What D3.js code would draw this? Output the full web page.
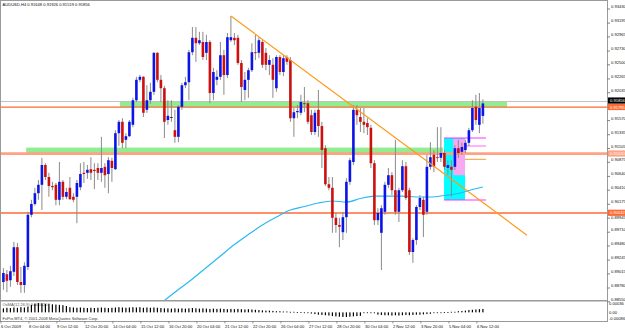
<!DOCTYPE html>
<html>
<head>
<meta charset="utf-8">
<script src="https://cdn.jsdelivr.net/npm/d3@7"></script>
<style>
body { margin: 0; background: #fff; }
svg { display: block; font-family: "Liberation Sans", Arial, sans-serif; }
</style>
</head>
<body>
<div id="bdy"></div>
<script>
var width = 625;
var height = 330;

// AUDUSD H4 candles, one entry per bar (bar 0 = 6 Oct 2009 20:00)
var open = [0.8888,0.8901,0.8891,0.8905,0.8946,0.8888,0.8883,0.8913,0.9000,0.9018,
  0.9036,0.9050,0.9083,0.9063,0.9048,0.9050,0.9025,0.9055,0.9030,0.9045,
  0.9030,0.9030,0.9046,0.9070,0.9070,0.9076,0.9075,0.9078,0.9070,0.9080,
  0.9068,0.9090,0.9076,0.9136,0.9155,0.9125,0.9131,0.9150,0.9191,0.9225,
  0.9230,0.9175,0.9191,0.9205,0.9270,0.9225,0.9211,0.9158,0.9163,0.9141,
  0.9130,0.9180,0.9216,0.9221,0.9271,0.9295,0.9286,0.9288,0.9270,0.9288,
  0.9203,0.9225,0.9230,0.9266,0.9233,0.9291,0.9295,0.9295,0.9253,0.9208,
  0.9225,0.9241,0.9271,0.9270,0.9288,0.9270,0.9250,0.9250,0.9211,0.9263,
  0.9238,0.9263,0.9258,0.9161,0.9171,0.9170,0.9186,0.9186,0.9166,0.9138,
  0.9175,0.9148,0.9111,0.9051,0.9045,0.8995,0.8983,0.8971,0.8996,0.9055,
  0.9088,0.9175,0.9163,0.9155,0.9153,0.9145,0.9086,0.8991,0.8970,0.9005,
  0.9050,0.9066,0.9041,0.9005,0.9041,0.9081,0.9041,0.8938,0.8958,0.9013,
  0.9025,0.9005,0.9080,0.9100,0.9096,0.9095,0.9103,0.9078,0.9080,0.9080,
  0.9111,0.9105,0.9108,0.9120,0.9141,0.9180,0.9150,0.91648];
var high = [0.8911,0.8908,0.8915,0.8955,0.8953,0.8913,0.8921,0.9005,0.9025,0.9045,
  0.9058,0.9095,0.9086,0.9070,0.9055,0.9053,0.9088,0.9058,0.9045,0.9063,
  0.9036,0.9058,0.9086,0.9088,0.9083,0.9096,0.9086,0.9086,0.9130,0.9086,
  0.9096,0.9095,0.9141,0.9158,0.9161,0.9136,0.9158,0.9195,0.9230,0.9233,
  0.9231,0.9216,0.9220,0.9271,0.9271,0.9233,0.9215,0.9191,0.9191,0.9175,
  0.9183,0.9220,0.9230,0.9275,0.9313,0.9313,0.9305,0.9305,0.9300,0.9291,
  0.9245,0.9241,0.9288,0.9275,0.9303,0.9331,0.9303,0.9300,0.9258,0.9238,
  0.9245,0.9286,0.9300,0.9296,0.9291,0.9278,0.9266,0.9261,0.9266,0.9266,
  0.9266,0.9266,0.9263,0.9178,0.9183,0.9200,0.9213,0.9191,0.9175,0.9175,
  0.9208,0.9155,0.9116,0.9063,0.9063,0.9003,0.8995,0.9005,0.9061,0.9095,
  0.9183,0.9183,0.9178,0.9178,0.9161,0.9150,0.9091,0.9011,0.9016,0.9055,
  0.9078,0.9071,0.9125,0.9045,0.9091,0.9088,0.9045,0.8961,0.9016,0.9033,
  0.9030,0.9100,0.9121,0.9108,0.9146,0.9146,0.9108,0.9091,0.9091,0.9116,
  0.9125,0.9120,0.9125,0.9145,0.9191,0.9200,0.9203,0.91926];
var low = [0.8875,0.8871,0.8880,0.8898,0.8883,0.8870,0.8870,0.8908,0.8996,0.9015,
  0.9025,0.9008,0.9058,0.9030,0.9041,0.9016,0.9016,0.9025,0.9026,0.9025,
  0.9021,0.8986,0.9041,0.9053,0.9060,0.9058,0.9043,0.9058,0.9055,0.9045,
  0.9036,0.9055,0.9075,0.9115,0.9111,0.9111,0.9130,0.9146,0.9188,0.9221,
  0.9163,0.9170,0.9185,0.9200,0.9221,0.9188,0.9128,0.9150,0.9155,0.9120,
  0.9121,0.9175,0.9211,0.9191,0.9266,0.9255,0.9283,0.9258,0.9258,0.9186,
  0.9191,0.9216,0.9225,0.9200,0.9228,0.9288,0.9283,0.9250,0.9188,0.9191,
  0.9195,0.9238,0.9258,0.9261,0.9245,0.9241,0.9233,0.9195,0.9205,0.9233,
  0.9231,0.9250,0.9155,0.9130,0.9161,0.9166,0.9171,0.9151,0.9133,0.9133,
  0.9130,0.9078,0.9048,0.9041,0.8970,0.8970,0.8946,0.8958,0.8970,0.9050,
  0.9083,0.9150,0.9138,0.9136,0.9133,0.9078,0.8983,0.8983,0.8908,0.9000,
  0.9045,0.9033,0.9000,0.8988,0.9038,0.9025,0.8933,0.8920,0.8950,0.9008,
  0.8963,0.9000,0.9075,0.9071,0.9088,0.9088,0.9075,0.9066,0.9030,0.9075,
  0.9095,0.9100,0.9103,0.9115,0.9138,0.9150,0.9136,0.91519];
var close = [0.8903,0.8890,0.8906,0.8946,0.8888,0.8883,0.8915,0.9000,0.9018,0.9036,
  0.9050,0.9083,0.9063,0.9048,0.9046,0.9025,0.9055,0.9030,0.9038,0.9026,
  0.9025,0.9053,0.9068,0.9068,0.9075,0.9070,0.9073,0.9070,0.9078,0.9066,
  0.9091,0.9078,0.9136,0.9155,0.9120,0.9131,0.9155,0.9191,0.9225,0.9230,
  0.9170,0.9191,0.9205,0.9270,0.9225,0.9211,0.9155,0.9165,0.9163,0.9130,
  0.9180,0.9216,0.9221,0.9271,0.9295,0.9286,0.9291,0.9263,0.9288,0.9203,
  0.9238,0.9230,0.9266,0.9233,0.9296,0.9296,0.9291,0.9253,0.9213,0.9225,
  0.9241,0.9271,0.9270,0.9291,0.9250,0.9250,0.9258,0.9225,0.9263,0.9238,
  0.9261,0.9255,0.9161,0.9171,0.9173,0.9188,0.9185,0.9155,0.9138,0.9170,
  0.9148,0.9108,0.9051,0.9045,0.8995,0.8983,0.8980,0.8996,0.9055,0.9091,
  0.9175,0.9166,0.9155,0.9150,0.9146,0.9086,0.8991,0.9003,0.9011,0.9050,
  0.9066,0.9041,0.9005,0.9041,0.9081,0.9028,0.8938,0.8958,0.9013,0.9028,
  0.9000,0.9080,0.9096,0.9080,0.9095,0.9103,0.9080,0.9083,0.9075,0.9111,
  0.9103,0.9113,0.9120,0.9141,0.9178,0.9158,0.9178,0.91856];

// lower window histogram
var osc = [0.00014,0.00016,0.00015,0.00017,0.00016,0.00018,0.00017,0.00020,
  0.00026,0.00030,0.00032,0.00031,0.00029,0.00030,0.00028,0.00027,0.00026,0.00025,0.00022,
  0.00018,0.00017,0.00016,0.00017,0.00016,0.00015,0.00016,0.00015,0.00016,0.00017,0.00016,
  0.00015,0.00016,0.00017,0.00018,0.00017,0.00016,0.00017,0.00018,0.00017,0.00018,0.00016,
  0.00017,0.00016,0.00017,0.00016,0.00015,0.00014,0.00014,0.00013,0.00014,0.00013,0.00014,
  0.00013,0.00014,0.00015,0.00014,0.00013,0.00014,0.00013,0.00012,0.00013,0.00012,0.00013,
  0.00012,0.00011,0.00012,0.00011,0.00012,0.00011,0.00010,0.00011,0.00010,0.00009,
  0.00008,0.00007,0.00006,0.00006,0.00005,0.00004,0.00004,0.00003,0.00003,
  0.00002,0.00002,0.00001,0.00001,-0.00001,-0.00002,
  -0.00004,-0.00006,-0.00008,-0.00009,-0.00010,-0.00011,
  -0.00013,-0.00014,-0.00015,-0.00016,-0.00016,-0.00015,-0.00014,-0.00013,-0.00012,
  -0.00002,-0.00002,-0.00003,-0.00003,
  -0.00008,-0.00009,-0.00010,-0.00010,-0.00011,-0.00010,-0.00011,-0.00010,-0.00009,-0.00010,-0.00009,-0.00008,-0.00008,-0.00007,-0.00006,-0.00005,
  -0.00002,-0.00001,-0.00001,0.00001,0.00001,0.00002,0.00002,
  0.00004,0.00005,0.00006,0.00008,0.00009,0.00010,0.00011,0.00012];

// moving average (bar, value)
var maBars = [46,50,54,58,62,66,70,74,78,82,86,90,94,98,102,106,110,114,118,122,126,130,134,137];
var maValues = [0.88572,0.88755,0.88930,0.89122,0.89313,0.89505,0.89672,0.89830,0.89963,0.90080,
  0.90138,0.90197,0.90230,0.90213,0.90272,0.90313,0.90313,0.90313,0.90297,0.90297,0.90322,0.90355,0.90422,0.90463];

// axis ticks
var priceTicks = [0.93430,0.93195,0.92965,0.92730,0.92500,0.92265,0.92035,0.91570,0.91335,0.91105,
  0.90875,0.90640,0.90410,0.90175,0.89945,0.89710,0.89480,0.89245,0.89015,0.88780,0.88550];
var tickBars = [0,8,16,24,32,40,48,56,64,72,80,88,96,104,112,120,128,136];
var tickLabels = ["6 Oct 2009","8 Oct 04:00","9 Oct 12:00","12 Oct 20:00","14 Oct 04:00","15 Oct 12:00",
  "16 Oct 20:00","20 Oct 04:00","21 Oct 12:00","22 Oct 20:00","26 Oct 04:00","27 Oct 12:00",
  "28 Oct 20:00","30 Oct 04:00","2 Nov 12:00","3 Nov 20:00","5 Nov 04:00","6 Nov 12:00"];
var oscTicks = [0.00036, 0, -0.00086];
var oscTickLabels = ["0.00036", "0.00", "-0.00086"];

// drawn objects
var levelPrices = [0.91795, 0.91020, 0.90032];
var zoneFrom = [33.3, 6.5];
var zoneTo = [143.9, 125.6];
var zoneTop = [0.91880, 0.91120];
var zoneBottom = [0.91795, 0.91025];
var trendBars = [65, 149.6];
var trendPrices = [0.93313, 0.89660];
var boxBars = [125.9, 131.9];
var boxPrices = [0.91280, 0.90247];
var pinkBars = [128.5, 131.9];
var pinkPrices = [0.91263, 0.90660];
var markBars = [125.9, 137.9];
var markPrices = [0.91280, 0.90247];
var shortBars = [131.9, 137.9];
var shortPrices = [0.91147, 0.90925];

var x = d3.scaleLinear().domain([0, 137]).range([3.4, 482.9]);
var y = d3.scaleLinear().domain([0.88580, 0.93547]).range([300, 2]);
var oy = d3.scaleLinear().domain([-0.00030, 0.00036]).range([321, 302]);

var svg = d3.select('#bdy').append('svg')
    .attr('width', width)
    .attr('height', height);

svg.append('rect').attr('width', width).attr('height', height).attr('fill', '#fff');

svg.append('clipPath').attr('id', 'clipMain')
    .append('rect').attr('x', 1).attr('y', 1).attr('width', 606).attr('height', 299);

var main = svg.append('g').attr('clip-path', 'url(#clipMain)');

//========================================================================
//                      OBJECTS BEHIND THE BARS
//========================================================================
main.selectAll('.zone')
    .data(zoneFrom)
    .enter().append('rect')
    .attr('x', function(d) { return x(d); })
    .attr('width', function(d, i) { return x(zoneTo[i]) - x(d); })
    .attr('y', function(d, i) { return y(zoneTop[i]); })
    .attr('height', function(d, i) { return y(zoneBottom[i]) - y(zoneTop[i]); })
    .attr('fill', '#90ee90');

main.append('rect')
    .attr('x', x(boxBars[0])).attr('width', x(boxBars[1]) - x(boxBars[0]))
    .attr('y', y(boxPrices[0])).attr('height', y(boxPrices[1]) - y(boxPrices[0]))
    .attr('fill', '#00ffff');
main.append('rect')
    .attr('x', x(pinkBars[0])).attr('width', x(pinkBars[1]) - x(pinkBars[0]))
    .attr('y', y(pinkPrices[0])).attr('height', y(pinkPrices[1]) - y(pinkPrices[0]))
    .attr('fill', '#f7a8f0');

// bid line
main.append('line')
    .attr('x1', 0).attr('x2', 607)
    .attr('y1', y(close[close.length - 1]) - 2).attr('y2', y(close[close.length - 1]) - 2)
    .attr('stroke', '#c0c0c0').attr('stroke-width', 1);

var levelColor = ['#ff6a33', '#ffa283', '#ff6a33'];
var levelWidth = [1.3, 2.6, 1.5];
main.selectAll('.level')
    .data(levelPrices)
    .enter().append('line')
    .attr('x1', 0).attr('x2', 607)
    .attr('y1', function(d) { return y(d); })
    .attr('y2', function(d) { return y(d); })
    .attr('stroke', function(d, i) { return levelColor[i]; })
    .attr('stroke-width', function(d, i) { return levelWidth[i]; });

main.selectAll('.mark')
    .data(markPrices)
    .enter().append('line')
    .attr('x1', x(markBars[0])).attr('x2', x(markBars[1]))
    .attr('y1', function(d) { return y(d); })
    .attr('y2', function(d) { return y(d); })
    .attr('stroke', '#ff33ff').attr('stroke-width', 1.2);
main.append('line')
    .attr('x1', x(shortBars[0])).attr('x2', x(shortBars[1]))
    .attr('y1', y(shortPrices[0])).attr('y2', y(shortPrices[0]))
    .attr('stroke', '#ff66ff').attr('stroke-width', 1);
main.append('line')
    .attr('x1', x(shortBars[0])).attr('x2', x(shortBars[1]))
    .attr('y1', y(shortPrices[1])).attr('y2', y(shortPrices[1]))
    .attr('stroke', '#ff9933').attr('stroke-width', 1);

// moving average
var maLine = d3.line()
    .x(function(d) { return x(d); })
    .y(function(d, i) { return y(maValues[i]); })
    .curve(d3.curveMonotoneX);
main.append('path')
    .attr('d', maLine(maBars))
    .attr('fill', 'none')
    .attr('stroke', '#2ab8f5')
    .attr('stroke-width', 1.2);

//========================================================================
//                      CANDLES
//========================================================================
var bars = d3.range(open.length);

main.selectAll('.wick')
    .data(bars)
    .enter().append('line')
    .attr('x1', function(i) { return x(i); })
    .attr('x2', function(i) { return x(i); })
    .attr('y1', function(i) { return y(high[i]); })
    .attr('y2', function(i) { return y(low[i]); })
    .attr('stroke', '#8a8a8a')
    .attr('stroke-width', 1);

main.selectAll('.body')
    .data(bars)
    .enter().append('rect')
    .attr('x', function(i) { return x(i) - 1.3; })
    .attr('width', 2.6)
    .attr('y', function(i) { return y(Math.max(open[i], close[i])); })
    .attr('height', function(i) { return Math.max(0.9, Math.abs(y(open[i]) - y(close[i]))); })
    .attr('fill', function(i) {
        if (close[i] > open[i]) return '#0a14e6';
        if (close[i] < open[i]) return '#cc1010';
        return '#222';
    });

// trend line
main.append('line')
    .attr('x1', x(trendBars[0])).attr('y1', y(trendPrices[0]))
    .attr('x2', x(trendBars[1])).attr('y2', y(trendPrices[1]))
    .attr('stroke', '#ff9a1a')
    .attr('stroke-width', 1.2);

//========================================================================
//                      FRAME AND AXES
//========================================================================
var frame = svg.append('g').attr('stroke', '#9a9a9a').attr('fill', 'none');
frame.append('line').attr('x1', 0.5).attr('x2', 0.5).attr('y1', 0).attr('y2', 322);
frame.append('line').attr('x1', 0).attr('x2', 607.5).attr('y1', 0.5).attr('y2', 0.5);
frame.append('line').attr('x1', 607.5).attr('x2', 607.5).attr('y1', 0).attr('y2', 322);
frame.append('line').attr('x1', 0).attr('x2', 607.5).attr('y1', 300.8).attr('y2', 300.8).attr('stroke-width', 1.6);
frame.append('line').attr('x1', 0).attr('x2', 607.5).attr('y1', 321.5).attr('y2', 321.5);

var ax = svg.append('g').style('font-size', '4.1px').attr('fill', '#111');

ax.selectAll('.ptick')
    .data(priceTicks)
    .enter().append('line')
    .attr('x1', 607.5).attr('x2', 610)
    .attr('y1', function(d) { return y(d); })
    .attr('y2', function(d) { return y(d); })
    .attr('stroke', '#333').attr('stroke-width', 0.6);

// price labels sit a little above their tick, except where a box is right above
ax.selectAll('.plabel')
    .data(priceTicks)
    .enter().append('text')
    .attr('x', 611)
    .attr('y', function(d) {
        var nearBox = levelPrices.some(function(p) { return Math.abs(y(p) - y(d)) < 6 && y(d) > y(p); });
        return nearBox ? y(d) + 1.2 : y(d) - 1;
    })
    .text(function(d) { return d.toFixed(5); });

// price boxes on the right
var boxFill = ['#ff6a33', '#ffa283', '#ff6a33'];
ax.selectAll('.pbox')
    .data(levelPrices)
    .enter().append('rect')
    .attr('x', 608).attr('width', 17)
    .attr('y', function(d) { return y(d) - 3.2; })
    .attr('height', 6.2)
    .attr('fill', function(d, i) { return boxFill[i]; });
ax.selectAll('.pboxt')
    .data(levelPrices)
    .enter().append('text')
    .attr('x', 610)
    .attr('y', function(d) { return y(d) + 1.4; })
    .attr('fill', '#fff')
    .text(function(d) { return d.toFixed(5); });

var last = close[close.length - 1];
ax.append('rect').attr('x', 608).attr('width', 17)
    .attr('y', y(last) - 6).attr('height', 6.2).attr('fill', '#000');
ax.append('text').attr('x', 610).attr('y', y(last) - 1.4)
    .attr('fill', '#fff').text(last.toFixed(5));

// time axis
ax.selectAll('.tlabel')
    .data(tickBars)
    .enter().append('text')
    .attr('x', function(d) { return x(d) - 2.5; })
    .attr('y', 328.3)
    .text(function(d, i) { return tickLabels[i]; });
ax.selectAll('.ttick')
    .data(tickBars)
    .enter().append('line')
    .attr('x1', function(d) { return x(d) - 2.5; })
    .attr('x2', function(d) { return x(d) - 2.5; })
    .attr('y1', 321.5).attr('y2', 323.5)
    .attr('stroke', '#333').attr('stroke-width', 0.5);

// header text
ax.append('text').attr('x', 2.5).attr('y', 6)
    .text('AUDUSD,H4  ' + open[open.length - 1].toFixed(5) + ' ' + high[high.length - 1].toFixed(5) + ' ' +
          low[low.length - 1].toFixed(5) + ' ' + last.toFixed(5));

//========================================================================
//                      LOWER WINDOW
//========================================================================
svg.append('clipPath').attr('id', 'clipSub')
    .append('rect').attr('x', 1).attr('y', 301.6).attr('width', 606).attr('height', 19.4);
var sub = svg.append('g').attr('clip-path', 'url(#clipSub)');

sub.append('text').attr('x', 2.5).attr('y', 305.5)
    .style('font-size', '4px').attr('fill', '#555')
    .text('OsMA(12,26,9) 0.000120');

sub.selectAll('.hist')
    .data(bars)
    .enter().append('rect')
    .attr('x', function(i) { return x(i) - 0.6; })
    .attr('width', 1.2)
    .attr('y', function(i) { return Math.min(oy(osc[i]), oy(0)); })
    .attr('height', function(i) { return Math.max(0.8, Math.abs(oy(osc[i]) - oy(0))); })
    .attr('fill', '#000');

sub.append('text').attr('x', 2.5).attr('y', 319.5)
    .style('font-size', '4px').attr('fill', '#333')
    .text('FxPro MT4, \u00a9 2001-2008 MetaQuotes Software Corp.');

var oscLabelY = [305, 313.5, 320];
ax.selectAll('.olabel')
    .data(oscTicks)
    .enter().append('text')
    .attr('x', 609)
    .attr('y', function(d, i) { return oscLabelY[i]; })
    .text(function(d, i) { return oscTickLabels[i]; });
</script>
</body>
</html>
